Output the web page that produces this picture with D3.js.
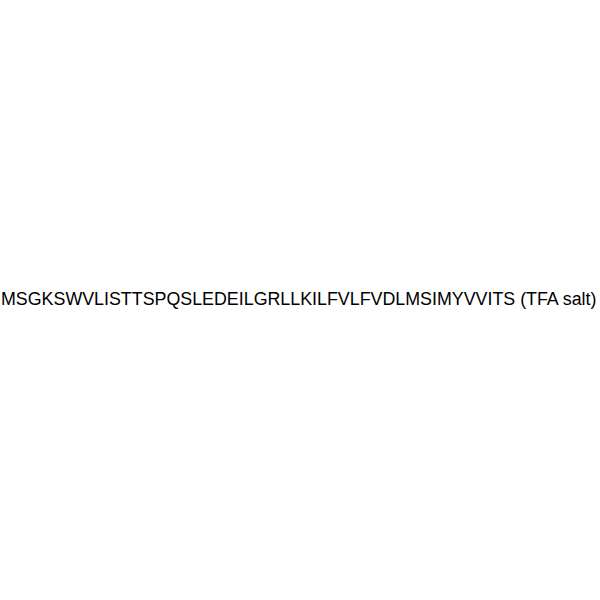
<!DOCTYPE html>
<html>
<head>
<meta charset="utf-8">
<script src="https://cdn.jsdelivr.net/npm/d3@7"></script>
<style>
  body { margin: 0; background: #fff; }
</style>
</head>
<body>
<div id="chart"></div>
<script>
// the only content of the picture: one label line
const labels = ["MSGKSWVLISTTSPQSLEDEILGRLLKILFVLFVDLMSIMYVVITS (TFA salt)"];

const width = 600, height = 600;
const left = 1, right = 597, baseline = 305;

const svg = d3.select("#chart")
  .append("svg")
  .attr("width", width)
  .attr("height", height);

const txt = svg.selectAll("text")
  .data(labels)
  .join("text")
  .attr("x", left)
  .attr("y", baseline)
  .attr("font-family", "'Liberation Sans', Arial, sans-serif")
  .attr("font-size", 16)
  .attr("fill", "#000")
  .text(d => d);

// scale font so the line spans the same width as the reference
const w = txt.node().getComputedTextLength();
txt.attr("font-size", 16 * (right - left) / w);
</script>
</body>
</html>
